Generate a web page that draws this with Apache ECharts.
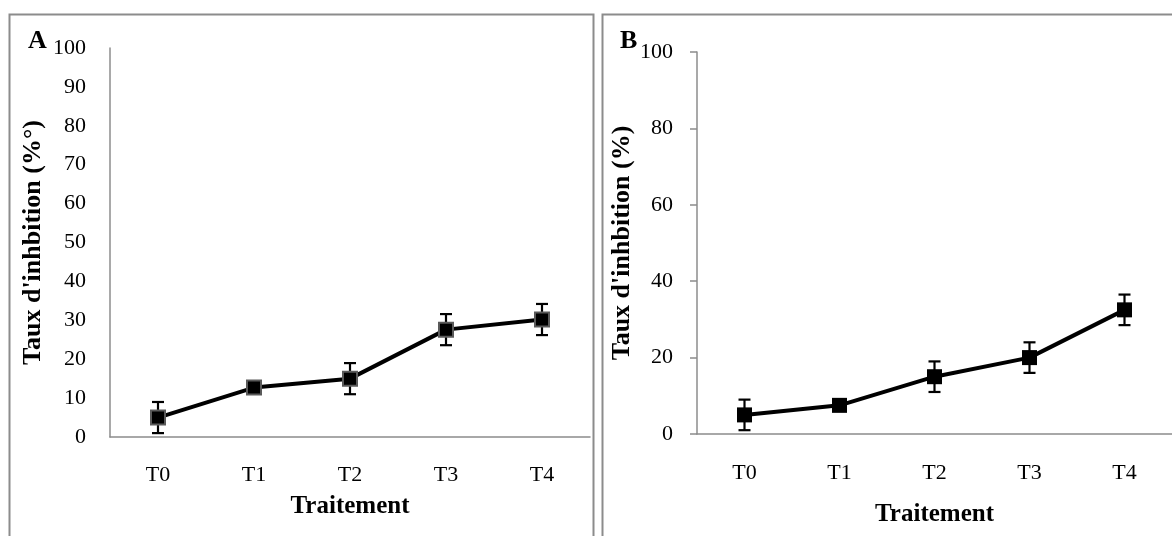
<!DOCTYPE html>
<html>
<head>
<meta charset="utf-8">
<script src="https://cdn.jsdelivr.net/npm/echarts@6/dist/echarts.min.js"></script>
<style>
html,body{margin:0;padding:0;background:#fff;}
#chart{width:1172px;height:536px;}
</style>
</head>
<body>
<div id="chart"></div>
<script>
const categories = ['T0', 'T1', 'T2', 'T3', 'T4'];
const valuesA = [5, 12.7, 15, 27.6, 30.2];
const errorsA = [4, 0.5, 4, 4, 4];
const valuesB = [5, 7.5, 15, 20, 32.5];
const errorsB = [4, 0.5, 4, 4, 4];
const yNameA = "Taux d'inhbition (%°)";
const yNameB = "Taux d'inhbition (%)";
const xName = 'Traitement';

const FONT = 'Liberation Serif';
const AXIS_GRAY = '#8c8c8c';

const chart = echarts.init(document.getElementById('chart'), null, {renderer: 'canvas'});

function errorSeries(values, errors, gridIdx) {
  return {
    type: 'custom',
    xAxisIndex: gridIdx,
    yAxisIndex: gridIdx,
    z: 1,
    silent: true,
    data: values.map((v, i) => [i, v, errors[i]]),
    renderItem: function (params, api) {
      const i = api.value(0), v = api.value(1), e = api.value(2);
      const top = api.coord([i, v + e]);
      const bot = api.coord([i, v - e]);
      const cw = 6;
      const style = {stroke: '#000', lineWidth: 2.2};
      return {
        type: 'group',
        children: [
          {type: 'line', shape: {x1: top[0], y1: top[1], x2: bot[0], y2: bot[1]}, style: style},
          {type: 'line', shape: {x1: top[0] - cw, y1: top[1], x2: top[0] + cw, y2: top[1]}, style: style},
          {type: 'line', shape: {x1: bot[0] - cw, y1: bot[1], x2: bot[0] + cw, y2: bot[1]}, style: style}
        ]
      };
    }
  };
}

const labelStyle = {color: '#000', fontFamily: FONT, fontSize: 22};
const nameStyle = {color: '#000', fontFamily: FONT, fontSize: 25, fontWeight: 'bold'};

chart.setOption({
  animation: false,
  backgroundColor: '#fff',
  grid: [
    {left: 110, top: 48, width: 480, bottom: 99, containLabel: false},
    {left: 697, top: 52, right: -15, bottom: 102, containLabel: false}
  ],
  xAxis: [
    {
      type: 'category', gridIndex: 0, data: categories, boundaryGap: true,
      axisLine: {lineStyle: {color: AXIS_GRAY, width: 1.5}},
      axisTick: {show: false},
      axisLabel: Object.assign({margin: 27}, labelStyle),
      name: xName, nameLocation: 'middle', nameGap: 57, nameTextStyle: nameStyle
    },
    {
      type: 'category', gridIndex: 1, data: categories, boundaryGap: true,
      axisLine: {lineStyle: {color: AXIS_GRAY, width: 1.5}},
      axisTick: {show: false},
      axisLabel: Object.assign({margin: 28}, labelStyle),
      name: xName, nameLocation: 'middle', nameGap: 68, nameTextStyle: nameStyle
    }
  ],
  yAxis: [
    {
      type: 'value', gridIndex: 0, min: 0, max: 100, interval: 10,
      axisLine: {show: true, lineStyle: {color: AXIS_GRAY, width: 1.5}},
      axisTick: {show: false},
      splitLine: {show: false},
      axisLabel: Object.assign({margin: 24}, labelStyle),
      name: yNameA, nameLocation: 'middle', nameGap: 64, nameRotate: 90,
      nameTextStyle: Object.assign({}, nameStyle, {fontSize: 26})
    },
    {
      type: 'value', gridIndex: 1, min: 0, max: 100, interval: 20,
      axisLine: {show: true, lineStyle: {color: AXIS_GRAY, width: 1.5}},
      axisTick: {show: true, inside: false, length: 7, lineStyle: {color: AXIS_GRAY, width: 1.5}},
      splitLine: {show: false},
      axisLabel: Object.assign({margin: 24}, labelStyle),
      name: yNameB, nameLocation: 'middle', nameGap: 62, nameRotate: 90,
      nameTextStyle: Object.assign({}, nameStyle, {fontSize: 26})
    }
  ],
  series: [
    errorSeries(valuesA, errorsA, 0),
    {
      type: 'line', xAxisIndex: 0, yAxisIndex: 0, data: valuesA, z: 3,
      symbol: 'rect', symbolSize: 14,
      lineStyle: {color: '#000', width: 4},
      itemStyle: {color: '#000', borderColor: '#5a5a5a', borderWidth: 2}
    },
    errorSeries(valuesB, errorsB, 1),
    {
      type: 'line', xAxisIndex: 1, yAxisIndex: 1, data: valuesB, z: 3,
      symbol: 'rect', symbolSize: 15,
      lineStyle: {color: '#000', width: 4},
      itemStyle: {color: '#000', borderWidth: 0}
    }
  ],
  graphic: [
    {type: 'rect', left: 7, top: 12, shape: {width: 584, height: 540},
     style: {fill: 'none', stroke: AXIS_GRAY, lineWidth: 2}, z: 0, silent: true},
    {type: 'rect', left: 600, top: 12, shape: {width: 600, height: 540},
     style: {fill: 'none', stroke: AXIS_GRAY, lineWidth: 2}, z: 0, silent: true},
    {type: 'text', left: 28, top: 28, style: {text: 'A', fill: '#000', font: 'bold 26px "Liberation Serif"'}, silent: true},
    {type: 'text', left: 620, top: 28, style: {text: 'B', fill: '#000', font: 'bold 26px "Liberation Serif"'}, silent: true}
  ]
});
</script>
</body>
</html>
